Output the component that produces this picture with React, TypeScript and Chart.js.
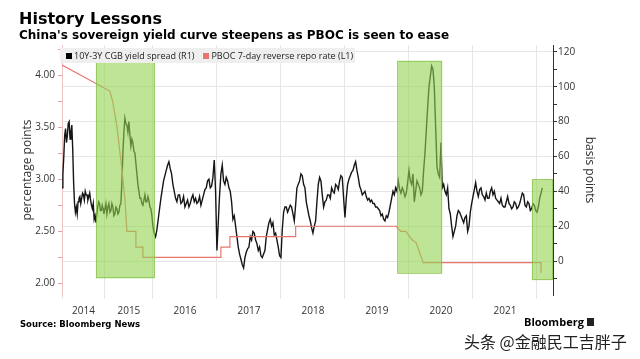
import React, { useEffect, useRef } from "react";
import { Chart, registerables } from "chart.js";

Chart.register(...registerables);

// ---------- data ----------
const YEARS = [2014, 2015, 2016, 2017, 2018, 2019, 2020, 2021, 2022];
// the source chart squeezes 2014 and 2015 on its time axis
const YEAR_WEIGHT = [0.67, 0.75, 1, 1, 1, 1, 1, 1, 1];
const X_START = 2014;
const X_END = 2022.25;
const SAMPLES_PER_YEAR = 48;

// 10Y-3Y CGB yield spread, basis points, roughly weekly readings
const SPREAD_2014 = [42, 50, 60, 72, 76, 68, 72, 79, 80, 70, 74, 78, 64, 45, 33, 28, 31, 27, 34, 36, 37, 33, 36, 39, 38, 35, 40, 38, 38, 35, 37, 39, 35, 32, 30, 33, 24, 26, 22, 27, 31, 34, 33, 29, 29, 32, 30, 27];
const SPREAD_2015 = [30, 33, 27, 31, 33, 28, 29, 33, 31, 26, 27, 31, 30, 27, 28, 32, 33, 45, 62, 74, 82, 79, 78, 74, 80, 72, 66, 70, 68, 63, 62, 56, 50, 44, 40, 36, 36, 33, 32, 35, 38, 34, 34, 37, 35, 31, 30, 26];
const SPREAD_2016 = [20, 16, 14, 18, 24, 30, 36, 41, 46, 49, 52, 55, 57, 53, 50, 44, 40, 36, 34, 38, 38, 33, 34, 37, 31, 33, 35, 31, 33, 36, 38, 34, 36, 33, 34, 37, 32, 35, 38, 41, 42, 46, 47, 42, 43, 48, 58, 40];
const SPREAD_2017 = [6, 22, 38, 50, 55, 46, 44, 48, 46, 42, 40, 34, 24, 26, 20, 14, 8, 4, 1, -2, -4, 2, 5, 7, 8, 14, 12, 17, 16, 12, 10, 6, 8, 3, 2, 4, 6, 14, 18, 22, 24, 20, 22, 15, 16, 12, 8, 3];
const SPREAD_2018 = [2, 18, 28, 31, 31, 28, 30, 32, 31, 27, 23, 32, 42, 44, 46, 50, 49, 44, 42, 34, 30, 26, 23, 19, 16, 20, 23, 34, 44, 48, 46, 38, 31, 34, 35, 38, 38, 36, 42, 40, 39, 44, 43, 41, 46, 49, 48, 36];
const SPREAD_2019 = [25, 36, 44, 47, 49, 51, 52, 55, 57, 52, 48, 43, 41, 38, 39, 40, 37, 35, 36, 34, 35, 33, 33, 31, 31, 30, 29, 26, 27, 24, 23, 26, 25, 28, 32, 36, 40, 38, 42, 40, 46, 41, 39, 42, 40, 37, 39, 45];
const SPREAD_2020 = [52, 46, 44, 50, 34, 40, 46, 44, 42, 38, 40, 52, 62, 75, 88, 100, 106, 112, 110, 100, 77, 54, 50, 48, 68, 42, 44, 40, 38, 42, 30, 27, 20, 14, 17, 20, 26, 29, 28, 26, 24, 22, 25, 26, 17, 20, 28, 33];
const SPREAD_2021 = [37, 41, 45, 40, 37, 41, 42, 38, 37, 35, 39, 36, 36, 40, 42, 38, 40, 36, 35, 34, 33, 36, 32, 31, 31, 34, 37, 33, 32, 30, 31, 34, 33, 30, 31, 33, 36, 39, 38, 32, 31, 34, 33, 29, 30, 33, 32, 29];
const SPREAD_2022 = [28, 31, 36, 39, 42];

// PBOC 7-day reverse repo rate, percent
const REPO_DATES = [2014.0, 2015.104, 2015.167, 2015.25, 2015.354, 2015.417, 2015.458, 2015.646, 2015.646, 2015.792, 2015.792,
  2017.0625, 2017.0625, 2017.203, 2017.203, 2018.23, 2018.23, 2019.80, 2019.873, 2019.952, 2020.048, 2020.111, 2020.206,
  2020.222, 2022.063, 2022.063];
const REPO_RATE = [4.10, 3.85, 3.74, 3.51, 3.10, 2.81, 2.50, 2.50, 2.35, 2.35, 2.25, 2.25, 2.35, 2.35, 2.45, 2.45, 2.55,
  2.55, 2.50, 2.50, 2.42, 2.39, 2.23, 2.20, 2.20, 2.10];

// highlighted easing periods (dates, and range in basis points)
const HL_START = [2014.79, 2019.82, 2021.92];
const HL_END = [2016.03, 2020.52, 2022.25];
const HL_TOP_BP = [114, 115, 47];
const HL_BOTTOM_BP = [-10, -7, -11];

const LEFT_MIN = 1.889;
const LEFT_MAX = 4.293;
const LEFT_TICKS = [2, 2.25, 2.5, 2.75, 3, 3.25, 3.5, 3.75, 4, 4.25];
const RIGHT_MIN = -19.5;
const RIGHT_MAX = 124;
const RIGHT_TICKS = [-10, 0, 10, 20, 30, 40, 50, 60, 70, 80, 90, 100, 110, 120];

const TITLE = "History Lessons";
const SUBTITLE = "China's sovereign yield curve steepens as PBOC is seen to ease";
const SERIES_SPREAD = "10Y-3Y CGB yield spread (R1)";
const SERIES_REPO = "PBOC 7-day reverse repo rate (L1)";
const SOURCE = "Source: Bloomberg News";

// ---------- helpers ----------
function axisPos(t: number): number {
  let pos = 0;
  for (let i = 0; i < YEARS.length; i++) {
    const y = YEARS[i];
    if (t < y + 1 || i === YEARS.length - 1) return pos + (t - y) * YEAR_WEIGHT[i];
    pos += YEAR_WEIGHT[i];
  }
  return pos;
}

const SPREAD_BY_YEAR = [SPREAD_2014, SPREAD_2015, SPREAD_2016, SPREAD_2017, SPREAD_2018, SPREAD_2019, SPREAD_2020, SPREAD_2021, SPREAD_2022];

const BOUNDARY_POS = YEARS.map((y) => axisPos(y));
const CENTER_YEARS = YEARS.slice(0, -1);
const CENTER_POS = CENTER_YEARS.map((y) => axisPos(y + 0.5));
const near = (a: number, b: number) => Math.abs(a - b) < 1e-6;

const SPREAD_COLOR = "#151515";
const REPO_COLOR = "#e8766d";
const GRID = "#e6e6e6";
const FONT = "'Open Sans', sans-serif";

const highlightPlugin = {
  id: "highlights",
  afterDatasetsDraw(chart: any) {
    const { ctx, scales } = chart;
    const x = scales.x;
    const yR = scales.yR;
    ctx.save();
    for (let i = 0; i < HL_START.length; i++) {
      const x0 = x.getPixelForValue(axisPos(HL_START[i]));
      const x1 = x.getPixelForValue(axisPos(HL_END[i]));
      const y0 = yR.getPixelForValue(HL_TOP_BP[i]);
      const y1 = yR.getPixelForValue(HL_BOTTOM_BP[i]);
      ctx.fillStyle = "rgba(147, 210, 80, 0.6)";
      ctx.fillRect(x0, y0, x1 - x0, y1 - y0);
      ctx.strokeStyle = "rgba(125, 185, 60, 0.6)";
      ctx.lineWidth = 1;
      ctx.strokeRect(Math.round(x0) + 0.5, Math.round(y0) + 0.5, Math.round(x1 - x0) - 1, Math.round(y1 - y0) - 1);
    }
    ctx.restore();
  },
};

export default function App() {
  const ref = useRef<HTMLCanvasElement>(null);

  useEffect(() => {
    const spreadPoints: { x: number; y: number }[] = [];
    SPREAD_BY_YEAR.forEach((vals, i) =>
      vals.forEach((v, j) => spreadPoints.push({ x: axisPos(YEARS[i] + j / SAMPLES_PER_YEAR), y: v }))
    );
    const repoPoints = REPO_DATES.map((d, i) => ({ x: axisPos(d), y: REPO_RATE[i] }));

    const chart = new Chart(ref.current as HTMLCanvasElement, {
      type: "line",
      data: {
        datasets: [
          {
            label: SERIES_REPO,
            data: repoPoints,
            yAxisID: "yL",
            borderColor: REPO_COLOR,
            borderWidth: 1.2,
            pointRadius: 0,
            tension: 0,
          },
          {
            label: SERIES_SPREAD,
            data: spreadPoints,
            yAxisID: "yR",
            borderColor: SPREAD_COLOR,
            borderWidth: 1.4,
            pointRadius: 0,
            tension: 0,
          },
        ],
      },
      options: {
        responsive: false,
        devicePixelRatio: 1,
        animation: false,
        layout: { padding: { left: 16, right: 39, top: 45, bottom: 0 } },
        plugins: { legend: { display: false }, tooltip: { enabled: false } },
        scales: {
          x: {
            type: "linear",
            min: axisPos(X_START),
            max: axisPos(X_END),
            afterBuildTicks: (s: any) => {
              const vals = [...BOUNDARY_POS.filter((v) => v <= axisPos(X_END)), ...CENTER_POS].sort((a, b) => a - b);
              s.ticks = vals.map((v) => ({ value: v }));
            },
            afterFit: (s: any) => {
              s.height = 64;
            },
            ticks: {
              autoSkip: false,
              maxRotation: 0,
              padding: 6,
              color: "#333",
              font: { family: FONT, size: 10 },
              callback: (v: any) => {
                const i = CENTER_POS.findIndex((c) => near(c, Number(v)));
                return i >= 0 ? String(CENTER_YEARS[i]) : "";
              },
            },
            grid: {
              color: (c: any) => (c.tick && BOUNDARY_POS.some((b) => near(b, c.tick.value)) ? GRID : "rgba(0,0,0,0)"),
              tickLength: 4,
            },
            border: { display: false },
          },
          yL: {
            type: "linear",
            position: "left",
            min: LEFT_MIN,
            max: LEFT_MAX,
            afterBuildTicks: (s: any) => {
              s.ticks = LEFT_TICKS.map((v) => ({ value: v }));
            },
            afterFit: (s: any) => {
              s.width = 46;
            },
            ticks: {
              padding: 3,
              color: "#333",
              font: { family: FONT, size: 10 },
              callback: (v: any) => (near((Number(v) * 2) % 1, 0) ? Number(v).toFixed(2) : ""),
            },
            grid: { drawOnChartArea: false, tickLength: 4, tickColor: "#e9a3a3" },
            border: { display: true, color: "#f0c4c4" },
            title: { display: true, text: "percentage points", color: "#333", font: { family: FONT, size: 12 } },
          },
          yR: {
            type: "linear",
            position: "right",
            min: RIGHT_MIN,
            max: RIGHT_MAX,
            afterBuildTicks: (s: any) => {
              s.ticks = RIGHT_TICKS.map((v) => ({ value: v }));
            },
            afterFit: (s: any) => {
              s.width = 48;
            },
            ticks: {
              padding: 1,
              color: "#333",
              font: { family: FONT, size: 10 },
              callback: (v: any) => (Number(v) % 20 === 0 ? String(v) : ""),
            },
            grid: {
              color: (c: any) => (c.tick && c.tick.value % 20 === 0 ? GRID : "rgba(0,0,0,0)"),
              tickColor: "#333",
              tickLength: 4,
            },
            border: { display: true, color: "#333" },
            title: { display: true, text: "basis points", color: "#333", font: { family: FONT, size: 12 } },
          },
        },
      },
      plugins: [highlightPlugin],
    } as any);
    return () => chart.destroy();
  }, []);

  const abs = (o: React.CSSProperties): React.CSSProperties => ({ position: "absolute", whiteSpace: "nowrap", ...o });

  return (
    <div style={{ position: "fixed", left: 0, top: 0, width: 640, height: 359, background: "#fff", overflow: "hidden" }}>
      <canvas ref={ref} width={640} height={359} style={{ position: "absolute", left: 0, top: 0 }} />
      <div style={abs({ left: 19, top: 11, fontFamily: "'DejaVu Sans'", fontWeight: 700, fontSize: 16, lineHeight: "16px", color: "#000" })}>
        {TITLE}
      </div>
      <div style={abs({ left: 19, top: 29, fontFamily: "'DejaVu Sans'", fontWeight: 700, fontSize: 12, lineHeight: "12px", color: "#000" })}>
        {SUBTITLE}
      </div>
      <div
        style={abs({
          left: 60,
          top: 48,
          width: 295,
          height: 15,
          background: "rgba(238,238,238,0.96)",
          display: "flex",
          alignItems: "center",
          fontFamily: FONT,
          fontSize: 9,
          color: "#222",
        })}
      >
        <span style={{ display: "inline-block", width: 6, height: 6, background: "#000", marginLeft: 6, marginRight: 2 }} />
        {SERIES_SPREAD}
        <span style={{ display: "inline-block", width: 6, height: 6, background: REPO_COLOR, marginLeft: 9, marginRight: 2 }} />
        {SERIES_REPO}
      </div>
      <div style={abs({ left: 20, top: 320, fontFamily: "'DejaVu Sans'", fontWeight: 700, fontSize: 8.5, lineHeight: "9px", color: "#000" })}>
        {SOURCE}
      </div>
      <div style={abs({ left: 524, top: 316, fontFamily: FONT, fontWeight: 700, fontSize: 11, lineHeight: "12px", color: "#000", display: "flex", alignItems: "center" })}>
        Bloomberg
        <span style={{ display: "inline-block", width: 7, height: 8, background: "#222", marginLeft: 3 }} />
      </div>
      <div style={abs({ left: 464, top: 333, fontFamily: "'Noto Sans CJK SC'", fontSize: 16, lineHeight: "16px", color: "#222" })}>
        头条 @金融民工吉胖子
      </div>
    </div>
  );
}
